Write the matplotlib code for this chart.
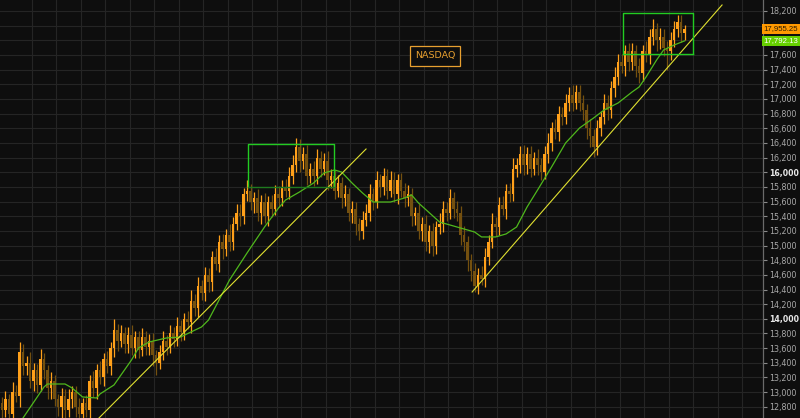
import matplotlib
matplotlib.use("Agg")
import matplotlib.pyplot as plt
import matplotlib.transforms as mtransforms
import numpy as np

# ---------------- data ----------------
closes = [
    12750, 12900, 12700, 13000, 12950, 13550, 13350, 13400, 13150, 13300,
    13100, 13450, 13300, 13050, 13150, 12900, 12800, 12950, 12750, 12900,
    13000, 12800, 12700, 12850, 12750, 13150, 13050, 13300, 13200, 13450,
    13350, 13600, 13850, 13700, 13800, 13650, 13780, 13600, 13750, 13580,
    13750, 13620, 13700, 13500, 13400, 13550, 13700, 13620, 13800, 13720,
    13900, 13820, 14000, 13950, 14250, 14150, 14450, 14350, 14600, 14500,
    14850, 14750, 15050, 14950, 15150, 15050, 15300, 15450, 15400, 15700,
    15750, 15600, 15650, 15450, 15600, 15400, 15600, 15500, 15700, 15650,
    15800, 15750, 15950, 16100, 16350, 16150, 16250, 15950, 16050, 15950,
    16200, 16050, 16150, 15900, 15950, 15750, 15850, 15650, 15700, 15450,
    15500, 15300, 15200, 15350, 15450, 15700, 15600, 15900, 15800, 15950,
    15750, 15900, 15700, 15900, 15750, 15650, 15700, 15400, 15450, 15200,
    15300, 15050, 15200, 15000, 15250, 15300, 15500, 15450, 15650, 15500,
    15450, 15150, 15050, 14800, 14650, 14450, 14600, 14550, 14850, 15050,
    15300, 15250, 15550, 15500, 15750, 15700, 16050, 16100, 16250, 16100,
    16250, 16050, 16200, 16100, 16000, 16250, 16400, 16600, 16550, 16800,
    16750, 16950, 17050, 16950, 17100, 16950, 16850, 16600, 16500, 16350,
    16600, 16750, 16950, 16850, 17150, 17300, 17500, 17450, 17650, 17500,
    17650, 17450, 17350, 17650, 17600, 17850, 17950, 17800, 17850, 17700,
    17650, 17800, 17950, 18050, 17900, 17955.25,
]
first_open = 12850

wick_hi = [
    90, 120, 70, 140, 100, 130, 110, 90, 150, 100,
    80, 140, 90, 70, 120, 90, 80, 110, 90, 140,
    80, 90, 120, 70, 110, 90, 140, 80, 120, 90,
    110, 90, 150, 80, 120, 90, 110, 140, 80, 90,
    120, 80, 90, 110, 70, 90, 140, 80, 110, 90,
    120, 90, 80, 110, 140, 90, 120, 80, 110, 90,
    80, 120, 90, 110, 80, 140, 90, 120, 110, 90,
    140, 90, 80, 120, 90, 110, 80, 90, 120, 110,
    90, 110, 120, 140, 120, 110, 90, 120, 80, 110,
    120, 90, 110, 140, 90, 80, 110, 90, 120, 90,
    110, 90, 80, 120, 110, 140, 90, 120, 80, 110,
    90, 120, 110, 80, 90, 110, 120, 90, 80, 110,
    90, 120, 80, 110, 90, 140, 110, 90, 120, 80,
    110, 90, 120, 80, 90, 110, 90, 120, 110, 90,
    140, 90, 110, 120, 90, 110, 140, 90, 110, 120,
    90, 110, 80, 120, 90, 110, 140, 90, 120, 110,
    90, 120, 110, 140, 90, 90, 110, 80, 120, 90,
    110, 90, 120, 110, 90, 140, 110, 120, 90, 110,
    120, 90, 110, 90, 140, 110, 140, 90, 120, 110,
    90, 120, 120, 100, 90, 60,
]
wick_lo = [
    120, 90, 140, 110, 90, 150, 110, 120, 90, 140,
    110, 90, 120, 140, 150, 90, 120, 160, 110, 90,
    120, 140, 100, 110, 90, 120, 110, 140, 90, 120,
    90, 110, 120, 140, 90, 110, 120, 90, 140, 110,
    90, 120, 110, 140, 160, 90, 110, 120, 90, 110,
    90, 120, 110, 90, 140, 110, 120, 90, 110, 140,
    120, 90, 110, 140, 90, 120, 110, 90, 140, 110,
    90, 120, 150, 110, 160, 90, 140, 110, 90, 120,
    110, 90, 120, 110, 90, 140, 110, 120, 90, 140,
    110, 120, 90, 140, 110, 120, 90, 140, 110, 120,
    140, 150, 130, 110, 90, 120, 110, 90, 140, 110,
    120, 90, 110, 140, 90, 120, 110, 140, 120, 110,
    140, 120, 150, 140, 110, 90, 120, 110, 90, 120,
    110, 140, 120, 150, 140, 80, 110, 90, 120, 110,
    90, 120, 110, 90, 140, 110, 90, 120, 110, 140,
    120, 110, 90, 140, 110, 90, 120, 110, 90, 120,
    110, 90, 120, 110, 90, 120, 140, 150, 160, 140,
    120, 110, 90, 140, 110, 120, 110, 90, 140, 120,
    110, 150, 130, 110, 90, 120, 110, 140, 120, 110,
    250, 120, 90, 110, 120, 90,
]

# moving average (candle index, value)
ma_idx = [5, 6, 12, 13, 18, 20, 23, 27, 28, 32, 37, 39, 42, 47, 51, 57, 59,
          65, 70, 75, 79, 81, 85, 89, 92, 95, 97, 100, 103, 106, 111, 115,
          117, 119, 125, 131, 135, 137, 141, 144, 147, 150, 153, 157, 161,
          165, 169, 172, 176, 180, 182, 184, 187, 189, 192, 195]
ma_val = [12500, 12647, 13070, 13111, 13111, 13057, 12934, 12920, 12975,
          13098, 13439, 13602, 13684, 13739, 13752, 13889, 13984,
          14530, 14898, 15253, 15512, 15621, 15731, 15853, 15990, 16031,
          16003, 15853, 15717, 15594, 15594, 15649, 15690, 15580, 15321,
          15239, 15185, 15117, 15117, 15158, 15253, 15526, 15758, 16072,
          16399, 16604, 16740, 16849, 16945, 17095, 17163, 17300, 17531,
          17668, 17736, 17792.13]

# trend lines (candle index, price)
trend1_idx = [27.7, 104.0]
trend1_val = [12647, 16317]
trend2_idx = [134.3, 205.7]
trend2_val = [14366, 18282]

# boxes (candle index range, price range)
box1_idx = [70.3, 94.9]
box1_val = [15799, 16386]
box2_idx = [177.4, 197.4]
box2_val = [17613, 18173]

y_ticks = list(range(12800, 18400, 200))
hidden_ticks = [17800, 18000]   # covered by the price markers in the original
bold_ticks = [14000, 16000]
last_price = 17955.25
ma_last = 17792.13
title_text = "NASDAQ"
title_pos = (123.7, 17586)

# ---------------- figure ----------------
BG = "#0e0e0e"
GRID = "#252525"
UP = "#ffa01a"
DOWN = "#74500f"

fig = plt.figure(figsize=(8.0, 4.18), dpi=100, facecolor=BG)
ax = fig.add_axes([0, 0, 763 / 800, 1.0])
ax.set_facecolor(BG)

n = len(closes)
idx = np.arange(n)
closes_a = np.array(closes, dtype=float)
opens_a = np.concatenate([[first_open], closes_a[:-1]])
top = np.maximum(opens_a, closes_a)
bot = np.minimum(opens_a, closes_a)
highs = top + np.array(wick_hi)
lows = bot - np.array(wick_lo)
up = closes_a >= opens_a
colors = np.where(up, UP, DOWN)

ax.set_xlim(-0.571, 217.4)
ax.set_ylim(12647, 18350)

# grid
for yv in y_ticks:
    ax.axhline(yv, color=GRID, lw=0.8, zorder=0)
for xv in np.arange(8.5, 218, 7):
    ax.axvline(xv, color=GRID, lw=0.8, zorder=0)

# candles
ax.vlines(idx, lows, highs, colors=colors, lw=0.9, zorder=2)
heights = np.maximum(top - bot, 14)
ax.bar(idx, heights, bottom=bot, width=0.72, color=colors, linewidth=0, zorder=3)

# moving average and trend lines
ax.plot(ma_idx, ma_val, color="#4fb81c", lw=0.9, zorder=4)
ax.plot(trend1_idx, trend1_val, color="#e0e030", lw=0.8, zorder=4)
ax.plot(trend2_idx, trend2_val, color="#e0e030", lw=0.8, zorder=4)

for bi, bv, bottom_col in [(box1_idx, box1_val, "#1f7a1f"), (box2_idx, box2_val, "#22cc22")]:
    ax.plot([bi[0], bi[0], bi[1], bi[1]], [bv[0], bv[1], bv[1], bv[0]],
            color="#22cc22", lw=1.0, zorder=5)
    ax.plot([bi[0], bi[1]], [bv[0], bv[0]], color=bottom_col, lw=1.0, zorder=5)

ax.text(title_pos[0], title_pos[1], title_text, color="#e8a030", fontsize=6.8,
        ha="center", va="center", zorder=6,
        bbox=dict(boxstyle="square,pad=0.55", facecolor=BG, edgecolor="#e8a030", lw=0.9))

# axis styling
for s in ["left", "top", "bottom"]:
    ax.spines[s].set_visible(False)
ax.spines["right"].set_color("#6a6a6a")
ax.spines["right"].set_linewidth(0.9)
ax.set_xticks([])
ax.yaxis.tick_right()
ax.set_yticks(y_ticks)
ax.set_yticklabels(["" if v in hidden_ticks else f"{v:,}" for v in y_ticks])
ax.tick_params(axis="y", length=3, width=0.8, color="#8a8a8a", pad=1.5,
               labelsize=5.8, labelcolor="#a8a8a8")
for lab, v in zip(ax.get_yticklabels(), y_ticks):
    if v in bold_ticks:
        lab.set_fontweight("bold")
        lab.set_color("#e8e8e8")
        lab.set_fontsize(5.6)

trans = mtransforms.blended_transform_factory(ax.transAxes, ax.transData)
ax.text(1.001, last_price, f"{last_price:,.2f}", transform=trans, fontsize=5.6,
        family="Liberation Sans", color="#2a1a00", ha="left", va="center",
        clip_on=False, zorder=10,
        bbox=dict(boxstyle="square,pad=0.22", facecolor="#ff9900", edgecolor="none"))
ax.text(1.001, ma_last, f"{ma_last:,.2f}", transform=trans, fontsize=5.6,
        family="Liberation Sans", color="#ffffff", ha="left", va="center",
        clip_on=False, zorder=10,
        bbox=dict(boxstyle="square,pad=0.22", facecolor="#66d000", edgecolor="none"))

fig.savefig("out.png", dpi=100, facecolor=BG)
